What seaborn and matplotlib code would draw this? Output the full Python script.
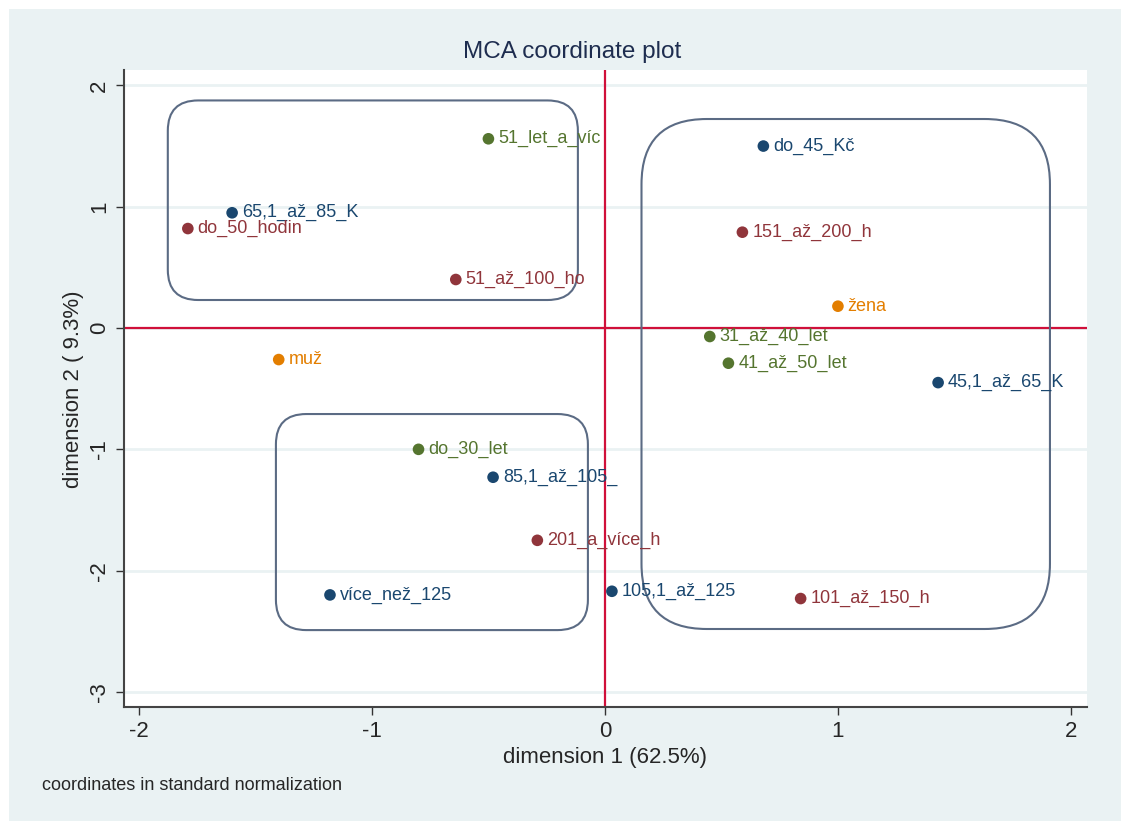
import numpy as np
import pandas as pd
import seaborn as sns
import matplotlib.pyplot as plt
from matplotlib.patches import FancyBboxPatch, Rectangle

# category labels and MCA coordinates (standard normalization)
labels = ['51_let_a_víc', '65,1_až_85_K', 'do_50_hodin', '51_až_100_ho', 'muž',
          'do_45_Kč', '151_až_200_h', 'žena', '31_až_40_let', '41_až_50_let',
          '45,1_až_65_K', 'do_30_let', '85,1_až_105_', '201_a_více_h',
          'více_než_125', '105,1_až_125', '101_až_150_h']
dim1 = [-0.50, -1.60, -1.79, -0.64, -1.40,
        0.68, 0.59, 1.00, 0.45, 0.53,
        1.43, -0.80, -0.48, -0.29,
        -1.18, 0.03, 0.84]
dim2 = [1.56, 0.95, 0.82, 0.40, -0.26,
        1.50, 0.79, 0.18, -0.07, -0.29,
        -0.45, -1.00, -1.23, -1.75,
        -2.20, -2.17, -2.23]
variable = ['vek', 'prijem', 'hodiny', 'hodiny', 'pohlavi',
            'prijem', 'hodiny', 'pohlavi', 'vek', 'vek',
            'prijem', 'vek', 'prijem', 'hodiny',
            'prijem', 'prijem', 'hodiny']

palette = {'prijem': '#1a476f', 'hodiny': '#90353b', 'vek': '#55752f', 'pohlavi': '#e37e00'}

# hand drawn groups: (x0, y0, x1, y1, corner radius in x units)
groups = [(-1.876, 0.231, -0.116, 1.876, 0.13),
          (0.157, -2.481, 1.910, 1.723, 0.28),
          (-1.412, -2.490, -0.073, -0.709, 0.13)]

df = pd.DataFrame({'label': labels, 'dim1': dim1, 'dim2': dim2, 'var': variable})

sns.set_style('white')
plt.rcParams['font.family'] = ['Liberation Sans', 'DejaVu Sans']

fig = plt.figure(figsize=(11.21, 8.21), dpi=100)
fig.patches.append(Rectangle((9 / 1121, 0), 1, 1 - 9 / 821, transform=fig.transFigure,
                             facecolor='#eaf2f3', edgecolor='none', zorder=-10))
ax = fig.add_axes([124 / 1121, 1 - 707 / 821, 963 / 1121, 637 / 821])
ax.set_facecolor('white')

xlim = (-2.064, 2.069)
ylim = (-3.124, 2.127)
ax.set_xlim(xlim)
ax.set_ylim(ylim)

yticks = [-3, -2, -1, 0, 1, 2]
xticks = [-2, -1, 0, 1, 2]
for yt in yticks:
    ax.axhline(yt, color='#eaf2f3', lw=2, zorder=0)

ax.axhline(0, color='#d0103a', lw=1.6, zorder=1)
ax.axvline(0, color='#d0103a', lw=1.6, zorder=1)

# aspect for round corners: y data per px / x data per px
asp = ((ylim[1] - ylim[0]) / 637) / ((xlim[1] - xlim[0]) / 963)
for x0, y0, x1, y1, r in groups:
    box = FancyBboxPatch((x0, y0), x1 - x0, y1 - y0,
                         boxstyle=f'round,pad=0,rounding_size={r}',
                         mutation_aspect=asp, facecolor='none',
                         edgecolor='#5b6b84', lw=1.5, zorder=2)
    ax.add_patch(box)

sns.scatterplot(data=df, x='dim1', y='dim2', hue='var', palette=palette,
                s=70, edgecolor='none', legend=False, ax=ax, zorder=3)

for _, row in df.iterrows():
    ax.text(row['dim1'] + 0.042, row['dim2'], row['label'], color=palette[row['var']],
            fontsize=13, va='center', ha='left', zorder=4)

ax.set_xticks(xticks)
ax.set_xticklabels([str(v) for v in xticks], fontsize=16)
ax.set_yticks(yticks)
ax.set_yticklabels([str(v) for v in yticks], fontsize=16, rotation=90, va='center')
ax.tick_params(axis='both', direction='out', length=6, width=1, color='#333333',
               left=True, bottom=True, pad=4)
ax.set_xlabel('')
ax.set_ylabel('')

for side in ['top', 'right']:
    ax.spines[side].set_visible(False)
for side in ['left', 'bottom']:
    ax.spines[side].set_color('#444444')
    ax.spines[side].set_linewidth(1.5)

fig.text(572 / 1121, 1 - 52 / 821, 'MCA coordinate plot', fontsize=17.5,
         color='#1e2d4f', ha='center', va='center')
fig.text(605 / 1121, 1 - 757 / 821, 'dimension 1 (62.5%)', fontsize=16,
         ha='center', va='center')
fig.text(73 / 1121, 1 - 389 / 821, 'dimension 2 ( 9.3%)', fontsize=16,
         ha='center', va='center', rotation=90)
fig.text(42 / 1121, 1 - 785 / 821, 'coordinates in standard normalization', fontsize=13,
         ha='left', va='center')

fig.savefig('out.png', dpi=100, facecolor='white')
